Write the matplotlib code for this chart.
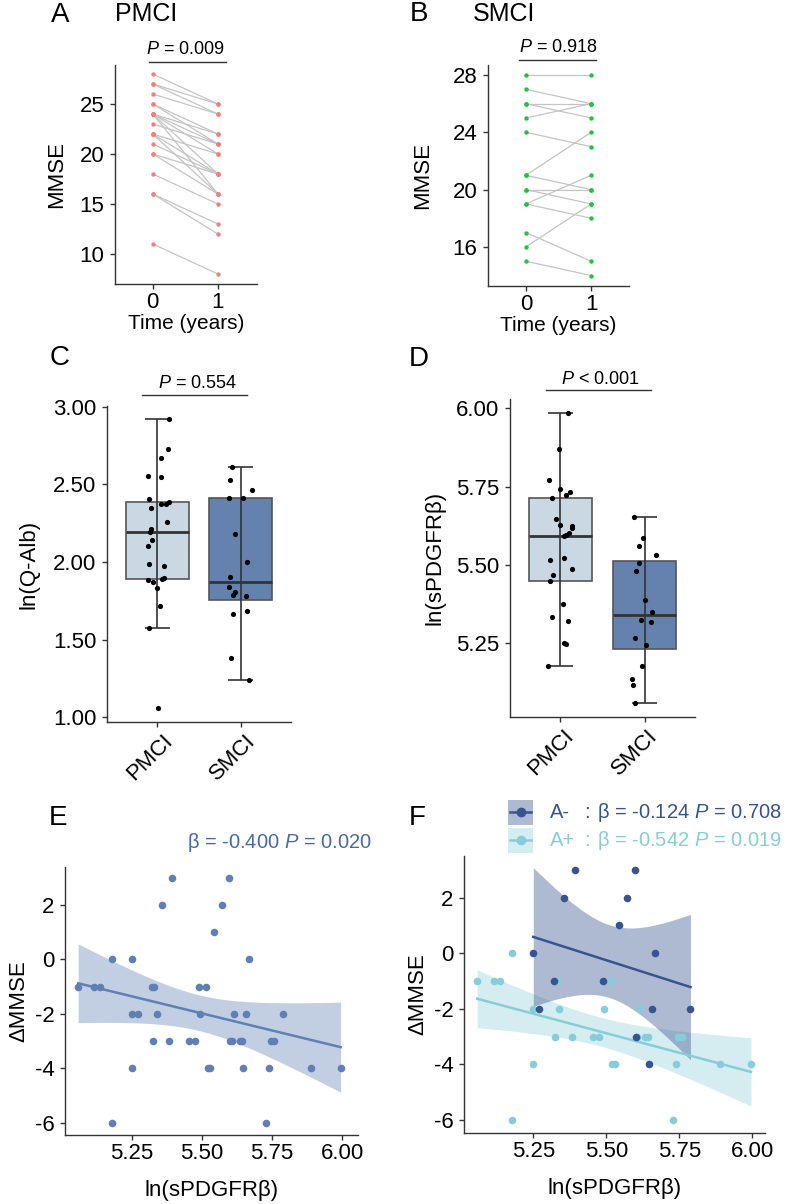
import numpy as np
import matplotlib
matplotlib.use('Agg')
import matplotlib.pyplot as plt
from matplotlib.lines import Line2D
from matplotlib.patches import Rectangle
from matplotlib.transforms import ScaledTranslation

plt.rcParams['font.family'] = ['Liberation Sans', 'DejaVu Sans']
plt.rcParams['mathtext.fontset'] = 'custom'
plt.rcParams['mathtext.rm'] = 'Liberation Sans'
plt.rcParams['mathtext.it'] = 'Liberation Sans:italic'
plt.rcParams['axes.unicode_minus'] = False

# ---------------- data ----------------
times = [0, 1]
time_labels = ['0', '1']
pmci_mmse_t0 = [28, 27, 27, 26, 25, 25, 24, 24, 24, 24, 24, 23, 22, 22, 22, 21, 20, 20, 18, 16, 16, 11]
pmci_mmse_t1 = [25, 25, 24, 24, 22, 21, 22, 21, 20, 18, 16, 21, 20, 18, 16, 18, 18, 16, 15, 13, 12, 8]
smci_mmse_t0 = [28, 27, 26, 26, 25, 24, 21, 21, 20, 20, 19, 19, 17, 16, 15]
smci_mmse_t1 = [28, 26, 26, 25, 26, 23, 24, 20, 20, 19, 21, 18, 15, 19, 14]

groups = ['PMCI', 'SMCI']

# ln(Q-Alb) box statistics and points
qalb_q1 = [1.89, 1.757]
qalb_med = [2.195, 1.87]
qalb_q3 = [2.387, 2.415]
qalb_lo = [1.574, 1.239]
qalb_hi = [2.92, 2.611]
qalb_pmci = [2.92, 2.73, 2.67, 2.557, 2.546, 2.406, 2.35, 2.372, 2.372, 2.387, 2.26, 2.215, 2.195,
             2.144, 2.10, 1.985, 1.974, 1.882, 1.869, 1.888, 1.899, 1.83, 1.716, 1.574, 1.06]
qalb_pmci_jit = [0.147, 0.131, 0.048, -0.111, 0.044, -0.095, -0.071, 0.044, 0.111, 0.147, 0.115, -0.075,
                 -0.087, -0.056, -0.111, -0.095, 0.087, -0.115, -0.048, 0.063, 0.087, -0.008, 0.036, -0.095, 0.004]
qalb_smci = [2.611, 2.527, 2.462, 2.415, 2.415, 2.179, 1.998, 1.901, 1.839, 1.808, 1.787, 1.78,
             1.664, 1.686, 1.378, 1.239]
qalb_smci_jit = [-0.111, -0.135, 0.135, -0.143, 0.032, -0.071, 0.075, -0.131, -0.143, -0.071, -0.095,
                 0.063, -0.092, 0.071, -0.119, 0.103]

# ln(sPDGFRb) box statistics and points
pdgf_q1 = [5.447, 5.23]
pdgf_med = [5.593, 5.338]
pdgf_q3 = [5.712, 5.513]
pdgf_lo = [5.176, 5.058]
pdgf_hi = [5.985, 5.653]
pdgf_pmci = [5.984, 5.871, 5.772, 5.743, 5.734, 5.724, 5.712, 5.645, 5.628, 5.623, 5.618, 5.603, 5.594,
             5.591, 5.515, 5.521, 5.486, 5.466, 5.447, 5.375, 5.333, 5.32, 5.249, 5.246, 5.176]
pdgf_pmci_jit = [0.087, -0.016, -0.131, -0.004, 0.119, 0.071, -0.095, -0.052, 0.0, 0.143, 0.143, 0.103,
                 0.063, 0.048, -0.127, 0.044, 0.135, -0.091, -0.127, 0.028, -0.103, 0.095, 0.040, 0.071, -0.143]
pdgf_smci = [5.653, 5.585, 5.56, 5.532, 5.505, 5.481, 5.386, 5.349, 5.323, 5.317, 5.267, 5.244,
             5.176, 5.135, 5.115, 5.058]
pdgf_smci_jit = [-0.131, -0.024, -0.071, 0.135, -0.067, -0.107, 0.0, 0.091, -0.044, 0.079, -0.115, 0.020,
                 -0.032, -0.151, -0.143, -0.115]

# Delta MMSE vs ln(sPDGFRb), by amyloid status
aneg_x = [5.250, 5.270, 5.320, 5.356, 5.394, 5.490, 5.542, 5.570, 5.597, 5.600, 5.657, 5.645, 5.667, 5.788]
aneg_y = [0, -2, -1, 2, 3, -1, 1, 2, 3, -3, -2, -4, 0, -2]
apos_x = [5.058, 5.114, 5.135, 5.178, 5.178, 5.250, 5.250, 5.325, 5.330, 5.339, 5.381, 5.453, 5.474,
          5.493, 5.516, 5.521, 5.530, 5.606, 5.616, 5.634, 5.642, 5.727, 5.740, 5.747, 5.758, 5.889, 5.995]
apos_y = [-1, -1, -1, 0, -6, -2, -4, -3, -1, -2, -3, -3, -3, -2, -1, -4, -4, -3, -2, -3, -3, -6, -4,
          -3, -3, -4, -4]

# ---------------- figure ----------------
W, H = 786, 1204
fig = plt.figure(figsize=(W / 100, H / 100), dpi=100)


def ax_px(l, t, r, b):
    return fig.add_axes([l / W, 1 - b / H, (r - l) / W, (b - t) / H])


def fx(x):
    return x / W


def fy(y):
    return 1 - y / H


SPINE = '#333333'
TICK_FS = 16
LAB_FS = 16


def style(ax):
    for s in ['top', 'right']:
        ax.spines[s].set_visible(False)
    for s in ['left', 'bottom']:
        ax.spines[s].set_color(SPINE)
        ax.spines[s].set_linewidth(1.0)
    ax.tick_params(axis='both', colors=SPINE, labelcolor='black', labelsize=TICK_FS,
                   length=3.5, width=1.0, pad=2)
    ax.tick_params(axis='y', pad=4)


def pbar(text, tx, ty, x0, x1, ly):
    fig.text(fx(tx), fy(ty), text, ha='center', va='center', fontsize=13)
    fig.add_artist(Line2D([fx(x0), fx(x1)], [fy(ly), fy(ly)], color='#333333', lw=1.0))


# ---- Panel A ----
axA = ax_px(115, 65, 257, 284)
style(axA)
for v0, v1 in zip(pmci_mmse_t0, pmci_mmse_t1):
    axA.plot(times, [v0, v1], color='#c4c4c4', lw=0.9, zorder=1)
axA.scatter([times[0]] * len(pmci_mmse_t0), pmci_mmse_t0, s=10, color='#f47f79', zorder=2, linewidths=0)
axA.scatter([times[1]] * len(pmci_mmse_t1), pmci_mmse_t1, s=10, color='#f47f79', zorder=2, linewidths=0)
axA.set_xlim(-0.58, 1.6)
axA.set_ylim(7, 28.9)
axA.set_yticks([10, 15, 20, 25])
axA.set_xticks(times)
axA.set_xticklabels(time_labels)
axA.set_ylabel('MMSE', fontsize=LAB_FS, labelpad=9)
axA.set_xlabel('Time (years)', fontsize=15, labelpad=1)
fig.text(fx(60), fy(15), 'A', ha='center', va='center', fontsize=20)
fig.text(fx(115), fy(14), 'PMCI', ha='left', va='center', fontsize=18)
pbar('$P$ = 0.009', 185, 50, 149, 226, 62)

# ---- Panel B ----
axB = ax_px(488, 65, 629, 286)
style(axB)
for v0, v1 in zip(smci_mmse_t0, smci_mmse_t1):
    axB.plot(times, [v0, v1], color='#c4c4c4', lw=0.9, zorder=1)
axB.scatter([times[0]] * len(smci_mmse_t0), smci_mmse_t0, s=10, color='#21c23c', zorder=2, linewidths=0)
axB.scatter([times[1]] * len(smci_mmse_t1), smci_mmse_t1, s=10, color='#21c23c', zorder=2, linewidths=0)
axB.set_xlim(-0.58, 1.58)
axB.set_ylim(13.27, 28.7)
axB.set_yticks([16, 20, 24, 28])
axB.set_xticks(times)
axB.set_xticklabels(time_labels)
axB.set_ylabel('MMSE', fontsize=LAB_FS, labelpad=14)
axB.set_xlabel('Time (years)', fontsize=15, labelpad=1)
fig.text(fx(419), fy(14), 'B', ha='center', va='center', fontsize=20)
fig.text(fx(473), fy(14), 'SMCI', ha='left', va='center', fontsize=18)
pbar('$P$ = 0.918', 558, 48, 519, 596, 60)

# ---- Box panels ----
box_colors = ['#c9d8e2', '#6581ae']


def box_panel(ax, q1, med, q3, lo, hi, pm, pmj, sm, smj, ylim, yticks, ylabel, ylpad, dx, dy):
    style(ax)
    pos = [1, 2]
    stats = []
    for i in range(2):
        stats.append(dict(med=med[i], q1=q1[i], q3=q3[i], whislo=q1[i], whishi=q3[i], fliers=[]))
    bp = ax.bxp(stats, positions=pos, widths=0.75, patch_artist=True, showcaps=False,
                showfliers=False, manage_ticks=False,
                medianprops=dict(color='#333333', lw=2.0),
                boxprops=dict(edgecolor='#555555', lw=1.2),
                whiskerprops=dict(lw=0))
    for patch, c in zip(bp['boxes'], box_colors):
        patch.set_facecolor(c)
        patch.set_zorder(1)
    for m in bp['medians']:
        m.set_zorder(1.5)
    ax.vlines(pos, lo, hi, color='#333333', lw=1.2, zorder=2)
    ax.hlines(lo, np.array(pos) - 0.15, np.array(pos) + 0.15, color='#333333', lw=1.2, zorder=2)
    ax.hlines(hi, np.array(pos) - 0.15, np.array(pos) + 0.15, color='#333333', lw=1.2, zorder=2)
    ax.scatter(pos[0] + np.array(pmj), pm, s=14, color='black', zorder=3, linewidths=0)
    ax.scatter(pos[1] + np.array(smj), sm, s=14, color='black', zorder=3, linewidths=0)
    ax.set_xlim(0.4, 2.6)
    ax.set_ylim(*ylim)
    ax.set_yticks(yticks)
    ax.set_yticklabels(['%.2f' % v for v in yticks])
    ax.set_xticks(pos)
    ax.set_xticklabels(groups, rotation=45, ha='right', va='center', rotation_mode='anchor')
    ax.tick_params(axis='x', pad=8)
    off = ScaledTranslation(dx / 100, dy / 100, fig.dpi_scale_trans)
    for lab in ax.get_xticklabels():
        lab.set_transform(lab.get_transform() + off)
    ax.set_ylabel(ylabel, fontsize=LAB_FS, labelpad=ylpad)


axC = ax_px(107, 406, 291, 722)
box_panel(axC, qalb_q1, qalb_med, qalb_q3, qalb_lo, qalb_hi, qalb_pmci, qalb_pmci_jit,
          qalb_smci, qalb_smci_jit, (0.968, 3.006), [1.0, 1.5, 2.0, 2.5, 3.0], 'ln(Q-Alb)', 10, 12, 0)
fig.text(fx(60), fy(358), 'C', ha='center', va='center', fontsize=20)
pbar('$P$ = 0.554', 198, 383, 142, 247, 395)

axD = ax_px(510, 399, 695, 717)
box_panel(axD, pdgf_q1, pdgf_med, pdgf_q3, pdgf_lo, pdgf_hi, pdgf_pmci, pdgf_pmci_jit,
          pdgf_smci, pdgf_smci_jit, (5.013, 6.03), [5.25, 5.5, 5.75, 6.0], 'ln(sPDGFRβ)', 8, 10, 0)
fig.text(fx(419), fy(359), 'D', ha='center', va='center', fontsize=20)
pbar('$P$ < 0.001', 600, 380, 546, 651, 390)


# ---- regression helper ----
def fit_band(x, y, t, npts=100):
    x = np.asarray(x, float)
    y = np.asarray(y, float)
    b, a = np.polyfit(x, y, 1)
    xs = np.linspace(x.min(), x.max(), npts)
    yhat = a + b * xs
    resid = y - (a + b * x)
    n = len(x)
    s = np.sqrt(np.sum(resid ** 2) / (n - 2))
    se = s * np.sqrt(1 / n + (xs - x.mean()) ** 2 / np.sum((x - x.mean()) ** 2))
    return xs, yhat, yhat - t * se, yhat + t * se


# ---- Panel E ----
all_x = aneg_x + apos_x
all_y = aneg_y + apos_y
axE = ax_px(65, 867, 358, 1135)
style(axE)
E_COL = '#5f7fb5'
xs, yh, lo, hi = fit_band(all_x, all_y, 2.0227)
axE.fill_between(xs, lo, hi, color=E_COL, alpha=0.38, lw=0, zorder=1)
axE.plot(xs, yh, color=E_COL, lw=1.8, zorder=2)
axE.scatter(all_x, all_y, s=30, color=E_COL, zorder=3, linewidths=0)
axE.set_xlim(5.011, 6.057)
axE.set_ylim(-6.44, 3.39)
axE.set_yticks([-6, -4, -2, 0, 2])
axE.set_xticks([5.25, 5.5, 5.75, 6.0])
axE.set_xticklabels(['5.25', '5.50', '5.75', '6.00'])
axE.set_ylabel('ΔMMSE', fontsize=LAB_FS, labelpad=4)
axE.set_xlabel('ln(sPDGFRβ)', fontsize=LAB_FS, labelpad=12)
fig.text(fx(58), fy(818), 'E', ha='center', va='center', fontsize=20)
fig.text(fx(372), fy(842), 'β = -0.400 $P$ = 0.020', ha='right', va='center', fontsize=14.5,
         color='#4a6aa5')

# ---- Panel F ----
axF = ax_px(464, 856, 765, 1133)
style(axF)
NEG_COL = '#36548f'
POS_COL = '#87cdd9'
xs, yh, lo, hi = fit_band(apos_x, apos_y, 2.0595)
axF.fill_between(xs, lo, hi, color=POS_COL, alpha=0.35, lw=0, zorder=1)
axF.plot(xs, yh, color=POS_COL, lw=1.8, zorder=2)
xs, yh, lo, hi = fit_band(aneg_x, aneg_y, 2.1788)
axF.fill_between(xs, lo, hi, color=NEG_COL, alpha=0.40, lw=0, zorder=1.5)
axF.plot(xs, yh, color=NEG_COL, lw=1.8, zorder=2)
axF.scatter(apos_x, apos_y, s=30, color=POS_COL, zorder=3, linewidths=0)
axF.scatter(aneg_x, aneg_y, s=30, color=NEG_COL, zorder=3, linewidths=0)
axF.set_xlim(5.013, 6.043)
axF.set_ylim(-6.47, 3.5)
axF.set_yticks([-6, -4, -2, 0, 2])
axF.set_xticks([5.25, 5.5, 5.75, 6.0])
axF.set_xticklabels(['5.25', '5.50', '5.75', '6.00'])
axF.set_ylabel('ΔMMSE', fontsize=LAB_FS, labelpad=4)
axF.set_xlabel('ln(sPDGFRβ)', fontsize=LAB_FS, labelpad=12)
fig.text(fx(417), fy(818), 'F', ha='center', va='center', fontsize=20)

# legend for F
for (yc, col, a, lab, stat) in [(812, NEG_COL, 0.40, 'A-', 'β = -0.124 $P$ = 0.708'),
                                (840, POS_COL, 0.35, 'A+', 'β = -0.542 $P$ = 0.019')]:
    fig.add_artist(Rectangle((fx(508), fy(yc + 12.5)), 25 / W, 25 / H, transform=fig.transFigure,
                             facecolor=col, alpha=a, edgecolor='none'))
    fig.add_artist(Line2D([fx(510), fx(531)], [fy(yc), fy(yc)], color=col, lw=1.8))
    fig.add_artist(Line2D([fx(520.5)], [fy(yc)], color=col, marker='o', markersize=6, lw=0))
    fig.text(fx(550), fy(yc), lab, ha='left', va='center', fontsize=14.5, color=col)
    fig.text(fx(584), fy(yc), ':', ha='left', va='center', fontsize=14.5, color=col)
    fig.text(fx(597), fy(yc), stat, ha='left', va='center', fontsize=14.5, color=col)

fig.savefig('out.png', dpi=100)
